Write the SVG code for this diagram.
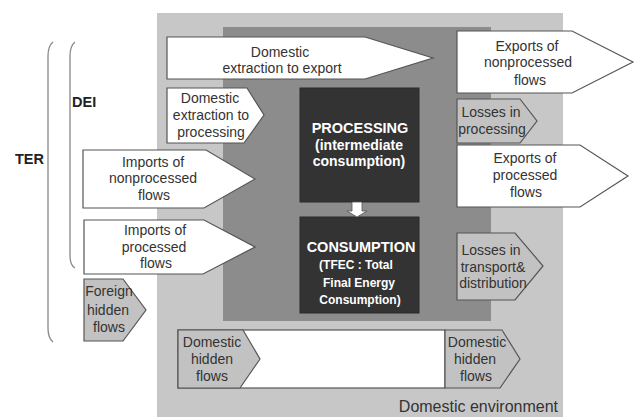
<svg xmlns="http://www.w3.org/2000/svg" width="635" height="417" viewBox="0 0 635 417">
<style>
text{font-family:"Liberation Sans",Arial,sans-serif;fill:#333;font-size:14px;text-anchor:middle}
.w{fill:#fff;stroke:#555;stroke-width:1.2}
.g{fill:#c2c2c2;stroke:#555;stroke-width:1.2}
.dk{fill:#333;stroke:#2a2a2a;stroke-width:1}
.wt{fill:#fff;font-weight:bold}
.lbl{font-weight:bold;fill:#222;text-anchor:start}
.br{fill:none;stroke:#888;stroke-width:1.3}
</style>
<rect width="635" height="417" fill="#fff"/>
<g id="domestic-environment">
<rect x="157" y="13" width="406" height="404" fill="#c7c7c7"/>
<text x="558" y="412" style="font-size:16px;text-anchor:end">Domestic environment</text>
</g>
<g id="economy">
<rect x="223" y="27" width="268" height="294" fill="#8c8c8c"/>
</g>
<g id="brackets">
<path class="br" d="M53,42 Q48,46 48,56 L48,328 Q48,338 53,342"/>
<path class="br" d="M75,42 Q70,46 70,56 L70,256 Q70,265 75,268"/>
<text class="lbl" x="15" y="164" style="font-size:14.5px">TER</text>
<text class="lbl" x="72" y="107" style="font-size:14.5px">DEI</text>
</g>
<g id="processing">
<rect class="dk" x="300" y="88" width="119" height="114"/>
<text class="wt" x="360" y="133" style="font-size:14.5px">PROCESSING</text>
<text class="wt" x="359" y="150">(intermediate</text>
<text class="wt" x="359" y="166">consumption)</text>
</g>
<g id="consumption">
<rect class="dk" x="300" y="217" width="119" height="96"/>
<text class="wt" x="361" y="252" style="font-size:14.5px">CONSUMPTION</text>
<text class="wt" x="356" y="269" style="font-size:12px">(TFEC : Total</text>
<text class="wt" x="359" y="287" style="font-size:12px">Final Energy</text>
<text class="wt" x="360" y="304" style="font-size:12px">Consumption)</text>
</g>
<g id="connectors">
<polygon points="352,202 362,202 362,211 367,211 357,217 347,211 352,211" fill="#fff" stroke="#555" stroke-width="0.8"/>
</g>
<g id="domestic-extraction-export">
<polygon class="w" points="167,37 365,37 433,58 365,79 167,79"/>
<text x="280" y="57">Domestic</text>
<text x="282" y="73">extraction to export</text>
</g>
<g id="domestic-extraction-processing">
<polygon class="w" points="167,88 247,88 264,115 244,143 167,143"/>
<text x="210" y="103">Domestic</text>
<text x="211" y="120">extraction to</text>
<text x="211" y="137">processing</text>
</g>
<g id="imports-nonprocessed">
<polygon class="w" points="83,150 206,150 255,179 204,208 83,208"/>
<text x="153" y="167">Imports of</text>
<text x="153" y="183">nonprocessed</text>
<text x="154" y="200">flows</text>
</g>
<g id="imports-processed">
<polygon class="w" points="84,220 204,220 255,247 203,274 84,274"/>
<text x="155" y="235">Imports of</text>
<text x="154" y="252">processed</text>
<text x="156" y="268">flows</text>
</g>
<g id="foreign-hidden">
<polygon class="g" points="84,279 123,279 146,310 123,341 84,341"/>
<text x="109" y="296">Foreign</text>
<text x="108" y="315">hidden</text>
<text x="109" y="332">flows</text>
</g>
<g id="exports-nonprocessed">
<polygon class="w" points="457,31 572,31 633,62 572,93 457,93"/>
<text x="527" y="51">Exports of</text>
<text x="528" y="67">nonprocessed</text>
<text x="530" y="85">flows</text>
</g>
<g id="losses-processing">
<polygon class="g" points="457,99 520,99 537,121 520,143 457,143"/>
<text x="491" y="117">Losses in</text>
<text x="492" y="134">processing</text>
</g>
<g id="exports-processed">
<polygon class="w" points="457,145 580,145 628,176 580,207 457,207"/>
<text x="525" y="163">Exports of</text>
<text x="525" y="180">processed</text>
<text x="526" y="197">flows</text>
</g>
<g id="losses-transport">
<polygon class="g" points="457,233 515,233 543,266 515,300 457,300"/>
<text x="491" y="255">Losses in</text>
<text x="493" y="272">transport&amp;</text>
<text x="493" y="288">distribution</text>
</g>
<g id="domestic-hidden-band">
<rect class="w" x="178" y="330" width="267" height="58"/>
</g>
<g id="domestic-hidden-left">
<polygon class="g" points="178,330 243,330 260,359 240,388 178,388"/>
<text x="212" y="347">Domestic</text>
<text x="212" y="364">hidden</text>
<text x="212" y="381">flows</text>
</g>
<g id="domestic-hidden-right">
<polygon class="g" points="445,330 502,330 520,359 500,388 445,388"/>
<text x="477" y="347">Domestic</text>
<text x="475" y="364">hidden</text>
<text x="476" y="381">flows</text>
</g>
</svg>
